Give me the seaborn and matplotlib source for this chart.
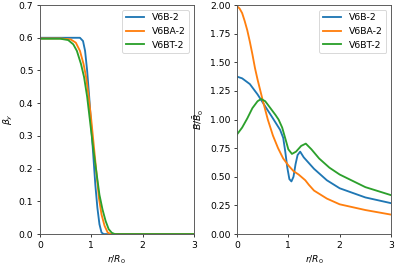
import matplotlib
matplotlib.use('Agg')
import matplotlib.pyplot as plt
import seaborn as sns
import pandas as pd

# beta_y profiles
r_beta_b = [0, 0.5, 0.78, 0.84, 0.88, 0.92, 0.96, 1.0, 1.04, 1.08, 1.12, 1.16, 1.2, 1.24, 1.5, 2, 3]
beta_b = [0.6, 0.6, 0.6, 0.59, 0.56, 0.5, 0.42, 0.33, 0.24, 0.15, 0.08, 0.03, 0.005, 0, 0, 0, 0]
r_beta_ba = [0, 0.4, 0.6, 0.7, 0.78, 0.85, 0.9, 0.95, 1.0, 1.05, 1.1, 1.15, 1.2, 1.26, 1.32, 1.38, 2, 3]
beta_ba = [0.598, 0.598, 0.595, 0.585, 0.56, 0.52, 0.48, 0.42, 0.35, 0.27, 0.19, 0.11, 0.06, 0.025, 0.005, 0, 0, 0]
r_beta_bt = [0, 0.4, 0.55, 0.65, 0.72, 0.8, 0.86, 0.92, 0.98, 1.04, 1.1, 1.16, 1.22, 1.28, 1.34, 1.4, 1.46, 2, 3]
beta_bt = [0.597, 0.597, 0.593, 0.58, 0.56, 0.52, 0.48, 0.42, 0.34, 0.26, 0.19, 0.12, 0.075, 0.04, 0.015, 0.004, 0, 0, 0]

# B / B0 profiles
r_b_b = [0, 0.1, 0.25, 0.4, 0.5, 0.6, 0.7, 0.84, 0.9, 0.94, 0.98, 1.02, 1.06, 1.1, 1.14, 1.18, 1.23, 1.3, 1.5, 1.75, 2, 2.5, 3]
b_b = [1.375, 1.36, 1.31, 1.22, 1.15, 1.08, 1.01, 0.91, 0.84, 0.72, 0.58, 0.48, 0.46, 0.5, 0.61, 0.69, 0.72, 0.67, 0.57, 0.47, 0.40, 0.32, 0.27]
r_b_ba = [0, 0.05, 0.1, 0.15, 0.2, 0.25, 0.3, 0.35, 0.4, 0.45, 0.5, 0.6, 0.7, 0.8, 0.9, 1.0, 1.1, 1.2, 1.33, 1.4, 1.5, 1.75, 2, 2.5, 3]
b_ba = [1.99, 1.97, 1.93, 1.86, 1.78, 1.68, 1.57, 1.45, 1.35, 1.26, 1.17, 1.0, 0.86, 0.75, 0.66, 0.6, 0.55, 0.52, 0.47, 0.43, 0.38, 0.31, 0.26, 0.21, 0.17]
r_b_bt = [0, 0.1, 0.2, 0.3, 0.4, 0.47, 0.55, 0.65, 0.75, 0.81, 0.88, 0.95, 1.0, 1.07, 1.15, 1.25, 1.34, 1.45, 1.6, 1.8, 2, 2.5, 3]
b_bt = [0.87, 0.93, 1.01, 1.1, 1.16, 1.18, 1.16, 1.1, 1.04, 1.0, 0.93, 0.82, 0.74, 0.70, 0.72, 0.77, 0.79, 0.74, 0.66, 0.58, 0.52, 0.41, 0.34]

labels = ['V6B-2', 'V6BA-2', 'V6BT-2']


def to_long(rs, ys):
    frames = []
    for lab, r, y in zip(labels, rs, ys):
        frames.append(pd.DataFrame({'r': r, 'v': y, 'run': lab}))
    return pd.concat(frames, ignore_index=True)


beta_df = to_long([r_beta_b, r_beta_ba, r_beta_bt], [beta_b, beta_ba, beta_bt])
field_df = to_long([r_b_b, r_b_ba, r_b_bt], [b_b, b_ba, b_bt])

palette = sns.color_palette('tab10', 3)

# drawn at 6x4 in, rendered small so it matches the scaled-down original
fig = plt.figure(figsize=(6, 4), dpi=66.5)
ax1 = fig.add_axes([0.1, 0.12, 0.386, 0.861])
ax2 = fig.add_axes([0.594, 0.12, 0.386, 0.861])

sns.lineplot(data=beta_df, x='r', y='v', hue='run', palette=palette, ax=ax1, sort=False, lw=2)
ax1.set_xlim(0, 3)
ax1.set_ylim(0, 0.7)
ax1.set_xlabel(r'$r/R_0$')
ax1.set_ylabel(r'$\beta_y$')
ax1.legend(loc='upper right', title=None)

sns.lineplot(data=field_df, x='r', y='v', hue='run', palette=palette, ax=ax2, sort=False, lw=2)
ax2.set_xlim(0, 3)
ax2.set_ylim(0, 2)
ax2.set_xlabel(r'$r/R_0$')
ax2.set_ylabel(r'$B/\bar{B}_0$')
ax2.legend(loc='upper right', title=None)

for ax in (ax1, ax2):
    ax.set_xticks([0, 1, 2, 3])
    for sp in ax.spines.values():
        sp.set_linewidth(1.0)
        sp.set_color('#555555')

fig.savefig('out.png', dpi=66.5)
